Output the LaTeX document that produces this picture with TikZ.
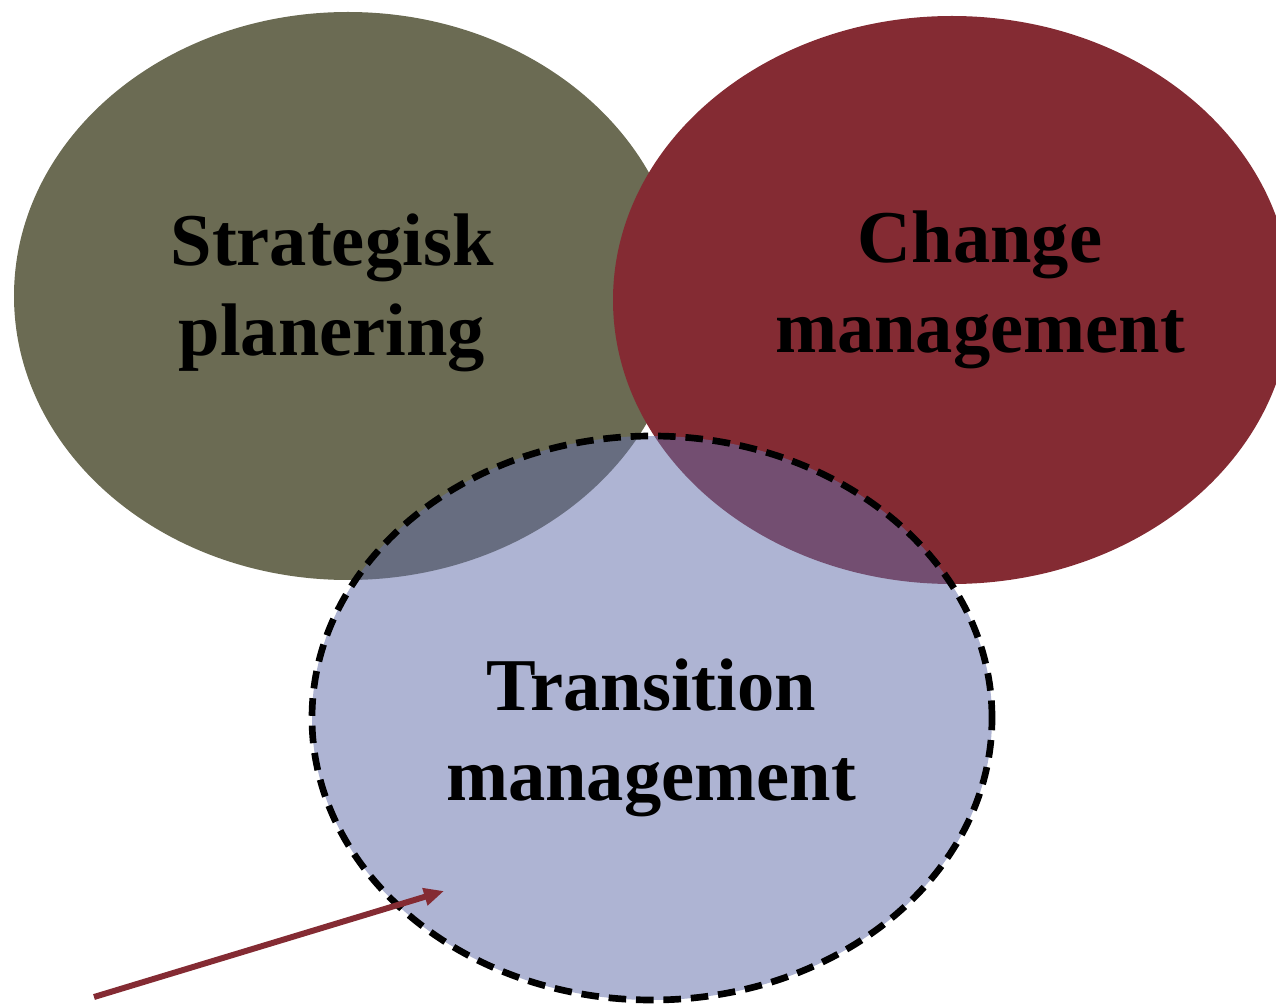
\documentclass[tikz,border=0pt]{standalone}
\usepackage{fontspec}
\setmainfont{Liberation Serif}
\usetikzlibrary{positioning,arrows.meta,shapes.geometric}
\definecolor{olivegr}{RGB}{107,107,83}
\definecolor{wine}{RGB}{132,43,51}
\definecolor{paleblue}{RGB}{100,112,170}
\tikzset{ell/.style={ellipse,inner sep=0pt,outer sep=0pt},
            lbl/.style={font=\fontsize{21.2}{25.5}\selectfont\bfseries,align=center}}

\begin{document}
\begin{tikzpicture}
\useasboundingbox (0,0) rectangle (12.76,10.04);
\node[ell,fill=olivegr,minimum width=6.68cm,minimum height=5.68cm] at (3.48,7.08)(sp){};
\node[ell,fill=wine,minimum width=6.78cm,minimum height=5.68cm] at (9.52,7.04)(cm){};
\node[ell,fill=paleblue,fill opacity=0.52,draw=black,line width=1.9pt,dash pattern=on 5pt off 2.8pt,minimum width=6.80cm,minimum height=5.64cm] at (6.52,2.86)(tm){};
\node[lbl] at (3.32,7.11)(sptext){Strategisk\\planering};
\node[lbl] at (9.80,7.14)(cmtext){Change\\management};
\node[lbl] at (6.51,2.66)(tmtext){Transition\\management};
\coordinate (from) at (0.94,0.07);
\coordinate (to) at (4.44,1.13);
\draw[-{Triangle[length=2mm,width=1.7mm]}, wine, line width=1.7pt] (from) -- (to);
\end{tikzpicture}
\end{document}
